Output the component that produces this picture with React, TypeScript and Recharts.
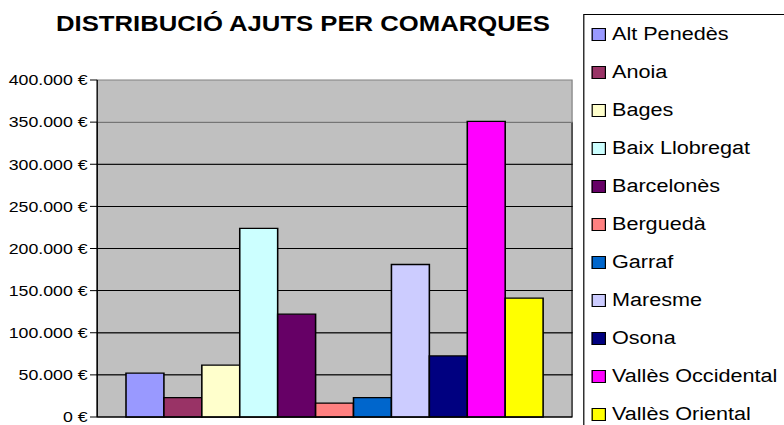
import { Bar, BarChart, ReferenceArea, XAxis, YAxis } from "recharts"

const comarques = [
  "Alt Penedès",
  "Anoia",
  "Bages",
  "Baix Llobregat",
  "Barcelonès",
  "Berguedà",
  "Garraf",
  "Maresme",
  "Osona",
  "Vallès Occidental",
  "Vallès Oriental",
]

const ajuts = [52000, 23000, 61500, 224000, 122000, 16500, 23000, 181000, 72500, 351000, 141000]

const colors = [
  "#9999FF",
  "#993366",
  "#FFFFCC",
  "#CCFFFF",
  "#660066",
  "#FF8080",
  "#0066CC",
  "#CCCCFF",
  "#000080",
  "#FF00FF",
  "#FFFF00",
]

const yTicks = [0, 50000, 100000, 150000, 200000, 250000, 300000, 350000, 400000]

const title = "DISTRIBUCIÓ AJUTS PER COMARQUES"

// one category, one series per comarca (Excel style)
const row: Record<string, string | number> = { name: "Comarques" }
comarques.forEach((c, i) => {
  row[c] = ajuts[i]
})
const data = [row]

// the original picture is stretched horizontally
const STRETCH = 1.2
const W = 784 / STRETCH
const H = 425
const MARGIN = { top: 80, right: 176.6, bottom: 7, left: 0 }
const Y_WIDTH = 81
const font = '"Liberation Sans", Arial, sans-serif'

const euro = (v: number) => `${String(v).replace(/\B(?=(\d{3})+(?!\d))/g, ".")} €`

function ChartLegend() {
  return (
    <div
      style={{
        position: "absolute",
        left: 486,
        top: 14,
        width: 200,
        height: 440,
        border: "1px solid #000",
        background: "#fff",
        fontFamily: font,
        fontSize: 18,
      }}
    >
      {comarques.map((c, i) => (
        <div
          key={c}
          style={{
            position: "absolute",
            left: 6,
            top: 8 + i * 38,
            height: 22,
            display: "flex",
            alignItems: "center",
            whiteSpace: "nowrap",
          }}
        >
          <span
            style={{
              display: "inline-block",
              width: 10,
              height: 11,
              background: colors[i],
              border: "1px solid #000",
              marginRight: 5,
            }}
          />
          {c}
        </div>
      ))}
    </div>
  )
}

export default function App() {
  return (
    <div style={{ position: "absolute", left: 0, top: 0, width: 784, height: H, overflow: "hidden", background: "#fff" }}>
      <div
        style={{
          position: "relative",
          width: W,
          height: H,
          transform: `scaleX(${STRETCH})`,
          transformOrigin: "0 0",
        }}
      >
        <div
          style={{
            position: "absolute",
            left: 0,
            top: 14,
            width: 505,
            textAlign: "center",
            fontFamily: font,
            fontWeight: "bold",
            fontSize: 21.4,
            lineHeight: "21px",
            color: "#000",
            whiteSpace: "nowrap",
          }}
        >
          {title}
        </div>
        <BarChart width={W} height={H} data={data} margin={MARGIN} barSize={31.6} barGap={0}>
          {/* grey plot area split in bands between ticks, the band edges are the gridlines */}
          {yTicks.slice(0, -1).map((t, i) => (
            <ReferenceArea
              key={t}
              y1={t}
              y2={yTicks[i + 1]}
              fill="#C0C0C0"
              fillOpacity={1}
              stroke={i === yTicks.length - 2 ? "#808080" : "#000"}
              strokeWidth={1}
            />
          ))}
          <XAxis dataKey="name" tick={false} height={1} axisLine={{ stroke: "#000" }} tickLine={false} />
          <YAxis
            domain={[0, 400000]}
            ticks={yTicks}
            width={Y_WIDTH}
            tickFormatter={euro}
            axisLine={{ stroke: "#000" }}
            tickLine={{ stroke: "#000" }}
            tick={{ fill: "#000", fontSize: 14.8, fontFamily: font }}
            interval={0}
          />
          {comarques.map((c, i) => (
            <Bar
              key={c}
              dataKey={c}
              fill={colors[i]}
              stroke="#000"
              strokeWidth={1.3}
              isAnimationActive={false}
            />
          ))}
        </BarChart>
        <ChartLegend />
      </div>
    </div>
  )
}
